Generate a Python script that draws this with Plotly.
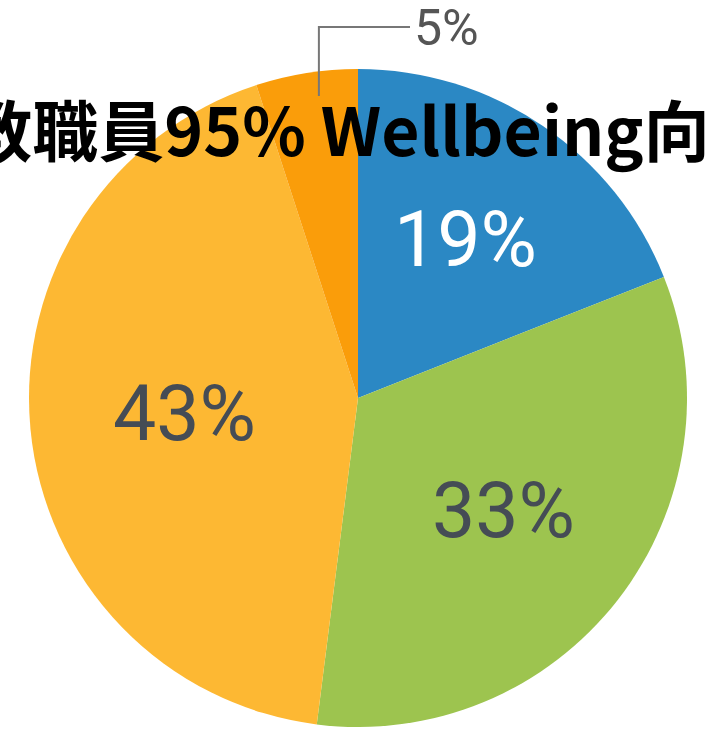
import math
import plotly.graph_objects as go

# data
labels = ["A", "B", "C", "D"]
values = [19, 33, 43, 5]
text_labels = ["19%", "33%", "43%", "5%"]
colors = ["#2b88c4", "#9dc44f", "#fdb833", "#fa9d0a"]
text_colors = ["#ffffff", "#454c55", "#454c55", "#555555"]
title_text = "教職員95% Wellbeing向上"

W, H = 705, 730
cx, cy, R = 358, 398, 329  # pixel centre/radius of the pie
label_r = [0.58, 0.56, 0.53]  # label radius as fraction of pie radius

dom_x = [(cx - R) / W, (cx + R) / W]
dom_y = [(H - cy - R) / H, (H - cy + R) / H]

LABEL_FONT = "Liberation Sans Narrow, Roboto, Arial, sans-serif"

fig = go.Figure(go.Pie(
    labels=labels,
    values=values,
    textinfo="none",
    marker=dict(colors=colors, line=dict(width=0)),
    sort=False,
    direction="clockwise",
    rotation=0,
    domain=dict(x=dom_x, y=dom_y),
    showlegend=False,
    hoverinfo="skip",
))

total = sum(values)
cum = 0
mids = []
for v in values:
    mids.append((cum + v / 2) / total * 2 * math.pi)
    cum += v

# inside labels at slice mid-angles
for i in range(3):
    r = label_r[i] * R
    px = cx + r * math.sin(mids[i])
    py = cy - r * math.cos(mids[i])
    fig.add_annotation(
        x=px / W, y=1 - py / H, xref="paper", yref="paper",
        xanchor="center", yanchor="middle",
        text=text_labels[i], showarrow=False,
        font=dict(family=LABEL_FONT, size=77, color=text_colors[i]),
    )

# leader line for the small slice, derived from its mid-angle
r_line = 250
lx = cx + r_line * math.sin(mids[3])
fig.add_shape(
    type="path",
    xref="paper", yref="paper",
    path=f"M {lx / W} {1 - 96 / H} L {lx / W} {1 - 27 / H} L {410 / W} {1 - 27 / H}",
    line=dict(color="#777777", width=2),
)
fig.add_annotation(
    x=412 / W, y=1 - 28 / H, xref="paper", yref="paper",
    xanchor="left", yanchor="middle",
    text=text_labels[3], showarrow=False,
    font=dict(family=LABEL_FONT, size=50, color=text_colors[3]),
)

fig.update_layout(
    width=W, height=H,
    margin=dict(l=0, r=0, t=0, b=0),
    paper_bgcolor="white",
    plot_bgcolor="white",
    title=dict(
        text=title_text,
        x=371 / W, xanchor="center", xref="container",
        y=1 - 133 / H, yanchor="middle", yref="container",
        font=dict(family="Noto Sans CJK JP", size=66, color="black", weight=700),
    ),
)

fig.write_html("out.html")
